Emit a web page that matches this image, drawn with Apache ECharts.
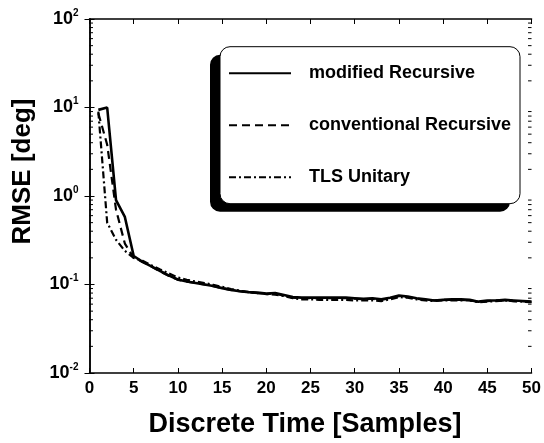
<!DOCTYPE html>
<html>
<head>
<meta charset="utf-8">
<script src="https://cdn.jsdelivr.net/npm/echarts@6/dist/echarts.min.js"></script>
<style>html,body{margin:0;padding:0;background:#fff;}#c{width:544px;height:443px;}</style>
</head>
<body>
<div id="c"></div>
<script>
const xs = [1,2,3,4,5,6,7,8,9,10,11,12,13,14,15,16,17,18,19,20,21,22,23,24,25,26,27,28,29,30,31,32,33,34,35,36,37,38,39,40,41,42,43,44,45,46,47,48,49,50];
const modifiedRecursive = [9.4,10,0.9,0.58,0.21,0.18,0.16,0.142,0.126,0.114,0.108,0.104,0.1,0.096,0.091,0.087,0.084,0.082,0.081,0.079,0.08,0.076,0.072,0.071,0.071,0.071,0.071,0.071,0.071,0.07,0.069,0.07,0.068,0.071,0.075,0.073,0.07,0.068,0.066,0.067,0.068,0.068,0.067,0.064,0.066,0.066,0.067,0.066,0.065,0.064];
const conventionalRecursive = [8.6,3.8,0.7,0.29,0.2,0.18,0.16,0.14,0.125,0.113,0.108,0.104,0.1,0.096,0.091,0.087,0.084,0.082,0.08,0.078,0.079,0.075,0.071,0.07,0.07,0.07,0.07,0.07,0.07,0.069,0.068,0.069,0.067,0.07,0.074,0.072,0.069,0.067,0.066,0.067,0.067,0.067,0.066,0.064,0.065,0.066,0.066,0.065,0.065,0.064];
const tlsUnitary = [9.0,0.5,0.32,0.24,0.2,0.185,0.165,0.148,0.133,0.12,0.113,0.108,0.104,0.099,0.094,0.089,0.085,0.082,0.08,0.078,0.077,0.074,0.07,0.068,0.068,0.067,0.067,0.067,0.067,0.066,0.066,0.066,0.065,0.068,0.072,0.071,0.068,0.066,0.065,0.066,0.066,0.066,0.066,0.063,0.064,0.065,0.066,0.065,0.064,0.063];
const seriesNames = ['modified Recursive','conventional Recursive','TLS Unitary'];
const minorTickValues = [0.02,0.03,0.04,0.05,0.06,0.07,0.08,0.09,0.2,0.3,0.4,0.5,0.6,0.7,0.8,0.9,2,3,4,5,6,7,8,9,20,30,40,50,60,70,80,90];
const xTitle = 'Discrete Time [Samples]';
const yTitle = 'RMSE [deg]';

const FONT = "'Liberation Sans', Arial, Helvetica, sans-serif";
const pair = arr => xs.map((x, i) => [x, arr[i]]);

const chart = echarts.init(document.getElementById('c'), null, {renderer: 'canvas'});

const yLabelFmt = v => {
  const e = Math.round(Math.log10(v));
  return '{b|10}{s|' + (e < 0 ? '-' + (-e) : e) + '}';
};

const axisLine = {show: true, lineStyle: {color: '#000', width: 1.5}};
const tick = {show: true, inside: true, length: 5, lineStyle: {color: '#000', width: 1}};

// legend box geometry (decoration)
const LB = {x: 220, y: 46.7, w: 300, h: 157, r: 10, dx: -10, dy: 8};

chart.setOption({
  animation: false,
  backgroundColor: '#fff',
  grid: {left: 89.5, right: 10.5, top: 19, bottom: 70, containLabel: false},
  xAxis: [
    {type: 'value', min: 0, max: 50, interval: 5, position: 'bottom',
     axisLine: axisLine, axisTick: tick, splitLine: {show: false},
     axisLabel: {color: '#000', fontFamily: FONT, fontWeight: 'bold', fontSize: 17, margin: 7}},
    {type: 'value', min: 0, max: 50, interval: 5, position: 'top',
     axisLine: axisLine, axisTick: tick, splitLine: {show: false}, axisLabel: {show: false}}
  ],
  yAxis: [
    {type: 'log', logBase: 10, min: 0.01, max: 100, position: 'left',
     axisLine: axisLine, axisTick: tick, splitLine: {show: false},
     axisLabel: {formatter: yLabelFmt, margin: 11,
       rich: {
         b: {color: '#000', fontFamily: FONT, fontWeight: 'bold', fontSize: 18, lineHeight: 22},
         s: {color: '#000', fontFamily: FONT, fontWeight: 'bold', fontSize: 10, lineHeight: 9, verticalAlign: 'top'}
       }}},
    {type: 'log', logBase: 10, min: 0.01, max: 100, position: 'right',
     axisLine: axisLine, axisTick: tick, splitLine: {show: false}, axisLabel: {show: false}}
  ],
  legend: {
    data: seriesNames,
    orient: 'vertical',
    left: LB.x, top: LB.y,
    padding: [17.6, 7, 17.6, 8],
    itemWidth: 62, itemHeight: 14, itemGap: 34,
    selectedMode: false,
    backgroundColor: 'transparent', borderWidth: 0,
    itemStyle: {opacity: 0},
    textStyle: {color: '#000', fontFamily: FONT, fontWeight: 'bold', fontSize: 18, padding: [0, 0, 0, 13]}
  },
  graphic: [
    {type: 'rect', z: 1, shape: {x: LB.x + LB.dx, y: LB.y + LB.dy, width: LB.w, height: LB.h, r: LB.r},
     style: {fill: '#000'}},
    {type: 'rect', z: 2, shape: {x: LB.x, y: LB.y, width: LB.w, height: LB.h, r: LB.r},
     style: {fill: '#fff', stroke: '#000', lineWidth: 1}},
    {type: 'text', x: 305, y: 425,
     style: {text: xTitle, fill: '#000', font: 'bold 27px ' + FONT, textAlign: 'center', textVerticalAlign: 'middle'}},
    {type: 'text', x: 22.5, y: 171.5, rotation: Math.PI / 2,
     style: {text: yTitle, fill: '#000', font: 'bold 26px ' + FONT, textAlign: 'center', textVerticalAlign: 'middle'}}
  ],
  series: [
    {name: 'minorTicks', type: 'custom', xAxisIndex: 0, yAxisIndex: 0, clip: false, silent: true,
     data: minorTickValues.map(v => [0, v]),
     renderItem: (params, api) => {
       const v = api.value(1);
       const pL = api.coord([0, v]);
       const pR = api.coord([50, v]);
       return {type: 'group', children: [
         {type: 'line', shape: {x1: pL[0], y1: pL[1], x2: pL[0] + 3.5, y2: pL[1]}, style: {stroke: '#000', lineWidth: 1}},
         {type: 'line', shape: {x1: pR[0] - 3.5, y1: pR[1], x2: pR[0], y2: pR[1]}, style: {stroke: '#000', lineWidth: 1}}
       ]};
     }},
    {name: seriesNames[2], type: 'line', data: pair(tlsUnitary), symbol: 'none', showSymbol: false,
     lineStyle: {color: '#000', width: 2.2, type: [7, 3, 2, 3]}, itemStyle: {color: '#000'}},
    {name: seriesNames[1], type: 'line', data: pair(conventionalRecursive), symbol: 'none', showSymbol: false,
     lineStyle: {color: '#000', width: 2.2, type: [8, 5]}, itemStyle: {color: '#000'}},
    {name: seriesNames[0], type: 'line', data: pair(modifiedRecursive), symbol: 'none', showSymbol: false,
     lineStyle: {color: '#000', width: 2.6, type: 'solid'}, itemStyle: {color: '#000'}}
  ]
});
</script>
</body>
</html>
